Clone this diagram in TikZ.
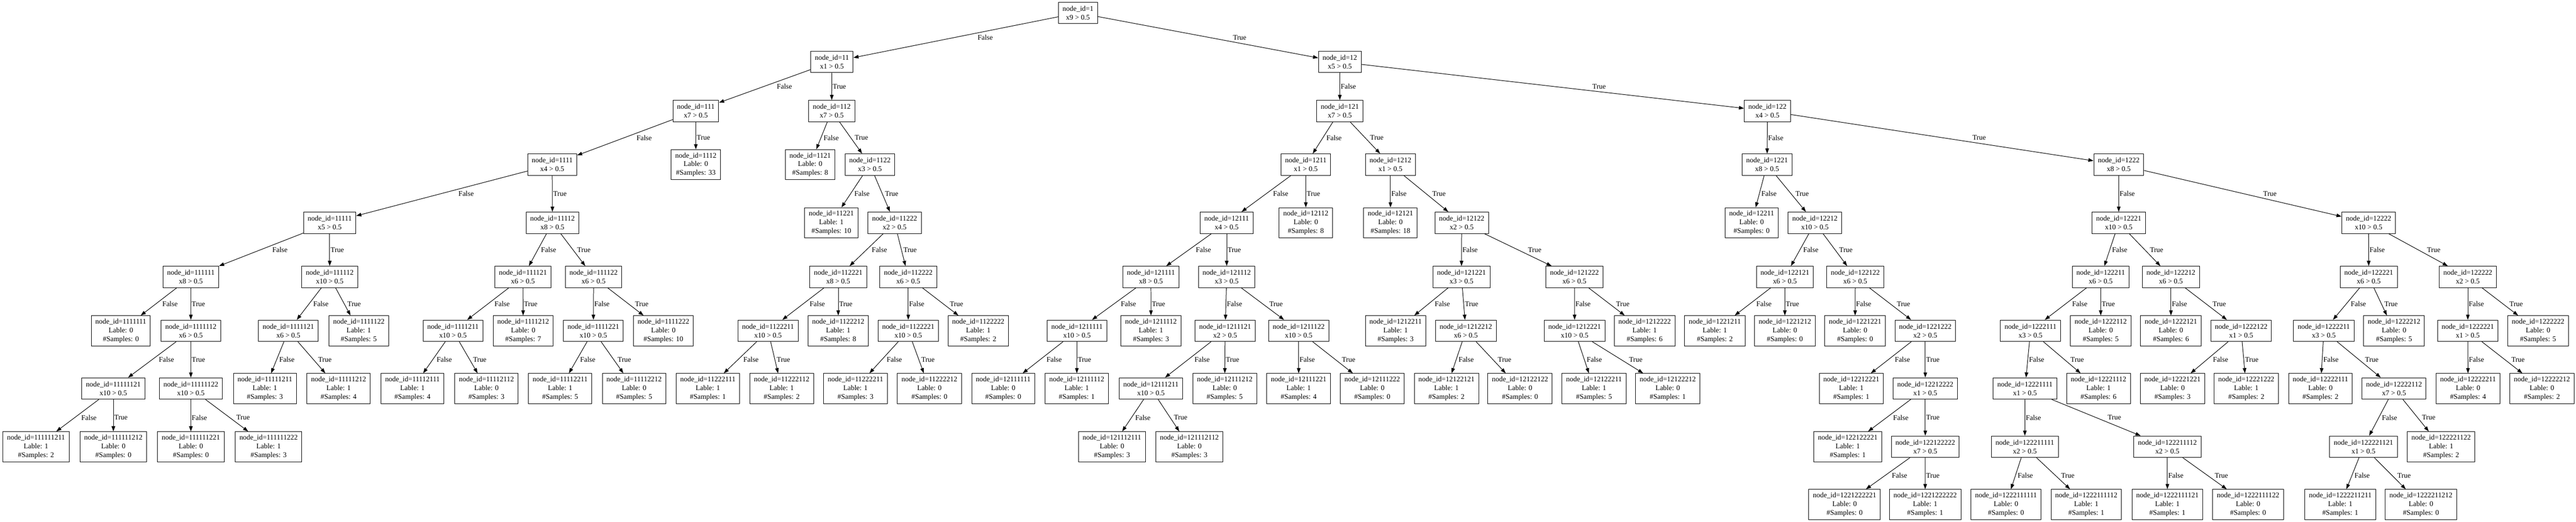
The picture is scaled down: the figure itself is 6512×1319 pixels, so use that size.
\documentclass[tikz,border=0pt]{standalone}
\usepackage{fontspec}
\setmainfont{Liberation Serif}
\usetikzlibrary{arrows.meta}
\newcommand\In[4]{%
  \expandafter\def\csname px#1\endcsname{#2}%
  \expandafter\def\csname py#1\endcsname{#3}%
  \node[inbox] (n#1) at (#2,#3) {node\_id=#1\\x#4 > 0.5};}
\newcommand\Lf[5]{%
  \expandafter\def\csname px#1\endcsname{#2}%
  \expandafter\def\csname py#1\endcsname{#3}%
  \node[leafbox] (n#1) at (#2,#3) {node\_id=#1\\Lable: #4\\\#Samples: #5};}
\newcommand\E[3]{%
  \draw[conn] (n#1) -- (n#2);
  \pgfmathsetmacro\lx{(\csname px#1\endcsname+\csname px#2\endcsname)/2+abs(\csname px#2\endcsname-\csname px#1\endcsname)/(\csname py#2\endcsname-\csname py#1\endcsname)*11+2}%
  \pgfmathsetmacro\ly{(\csname py#1\endcsname+\csname py#2\endcsname)/2}%
  \node[lbl] (l#2) at (\lx,\ly) {#3};}
\newcommand\T[3]{\E{#1}{#2}{False}\E{#1}{#3}{True}}
\begin{document}
\begin{tikzpicture}[x=0.76923pt,y=-0.76923pt,
  box/.style={draw, line width=1pt, align=center, inner xsep=8pt, inner ysep=0pt, font=\fontsize{14}{16.8}\selectfont},
  inbox/.style={box, minimum height=41.6pt},
  leafbox/.style={box, minimum height=58.4pt},
  conn/.style={draw, line width=1pt, -{Triangle[length=10pt,width=7pt]}},
  lbl/.style={anchor=west, inner sep=0pt, font=\fontsize{14}{16.8}\selectfont}]
\fill[white] (0,0) rectangle (6512,1319);
\useasboundingbox (0,0) rectangle (6512,1319);
% rank 0
\In{1}{2725}{32.5}{9}
% rank 1
\In{11}{2103}{156.5}{1}
\In{12}{3387}{156.5}{5}
% rank 2
\In{111}{1759}{280.5}{7}
\In{112}{2102.5}{280.5}{7}
\In{121}{3387}{280.5}{7}
\In{122}{4468}{280.5}{4}
% rank 3
\In{1111}{1396}{416}{4}
\Lf{1112}{1759}{416}{0}{33}
\Lf{1121}{2048}{416}{0}{8}
\In{1122}{2199}{416}{3}
\In{1211}{3301}{416}{1}
\In{1212}{3515}{416}{1}
\In{1221}{4467}{416}{8}
\In{1222}{5356}{416}{8}
% rank 4
\In{11111}{833.5}{563}{5}
\In{11112}{1396.6}{563}{8}
\Lf{11221}{2101.5}{563}{1}{10}
\In{11222}{2261.5}{563}{2}
\In{12111}{3101}{563}{4}
\Lf{12112}{3301}{563}{0}{8}
\Lf{12121}{3515}{563}{0}{18}
\In{12122}{3695}{563}{2}
\Lf{12211}{4428}{563}{0}{0}
\In{12212}{4588}{563}{10}
\In{12221}{5356}{563}{10}
\In{12222}{5987.6}{563}{10}
% rank 5
\In{111111}{482.5}{700}{8}
\In{111112}{833.5}{700}{10}
\In{111121}{1322}{700}{6}
\In{111122}{1500.5}{700}{6}
\In{112221}{2119}{700}{8}
\In{112222}{2296}{700}{6}
\In{121111}{2909.5}{700}{8}
\In{121112}{3101}{700}{3}
\In{121221}{3694.5}{700}{3}
\In{121222}{3980}{700}{6}
\In{122121}{4512}{700}{6}
\In{122122}{4690}{700}{6}
\In{122211}{5310.5}{700}{6}
\In{122212}{5488}{700}{6}
\In{122221}{5988}{700}{6}
\In{122222}{6238.5}{700}{2}
% rank 6
\Lf{1111111}{305.5}{836}{0}{0}
\In{1111112}{482.5}{836}{6}
\In{1111121}{729}{836}{6}
\Lf{1111122}{907}{836}{1}{5}
\In{1111211}{1145}{836}{10}
\Lf{1111212}{1322.6}{836}{0}{7}
\In{1111221}{1500}{836}{10}
\Lf{1111222}{1677}{836}{0}{10}
\In{1122211}{1941.6}{836}{10}
\Lf{1122212}{2119}{836}{1}{8}
\In{1122221}{2296}{836}{10}
\Lf{1122222}{2473}{836}{1}{2}
\In{1211111}{2722.6}{836}{10}
\Lf{1211112}{2909.6}{836}{1}{3}
\In{1211121}{3097}{836}{2}
\In{1211122}{3283}{836}{10}
\Lf{1212211}{3528}{836}{1}{3}
\In{1212212}{3705.6}{836}{6}
\In{1212221}{3980.6}{836}{10}
\Lf{1212222}{4157.5}{836}{1}{6}
\Lf{1221211}{4335}{836}{1}{2}
\Lf{1221212}{4512}{836}{0}{0}
\Lf{1221221}{4689.5}{836}{0}{0}
\In{1221222}{4867}{836}{2}
\In{1222111}{5133}{836}{3}
\Lf{1222112}{5310.5}{836}{0}{5}
\Lf{1222121}{5488}{836}{0}{6}
\In{1222122}{5665.5}{836}{1}
\In{1222211}{5874.5}{836}{3}
\Lf{1222212}{6052}{836}{0}{5}
\In{1222221}{6238.5}{836}{1}
\Lf{1222222}{6416}{836}{0}{5}
% rank 7
\In{11111121}{286.6}{982}{10}
\In{11111122}{482.5}{982}{10}
\Lf{11111211}{669.6}{982}{1}{3}
\Lf{11111212}{856}{982}{1}{4}
\Lf{11112111}{1042.7}{982}{1}{4}
\Lf{11112112}{1229.7}{982}{0}{3}
\Lf{11112211}{1416}{982}{1}{5}
\Lf{11112212}{1603}{982}{0}{5}
\Lf{11222111}{1789.5}{982}{1}{1}
\Lf{11222112}{1976}{982}{1}{2}
\Lf{11222211}{2162.6}{982}{1}{3}
\Lf{11222212}{2349.5}{982}{0}{0}
\Lf{12111111}{2536}{982}{0}{0}
\Lf{12111112}{2722}{982}{1}{1}
\In{12111211}{2909.5}{982}{10}
\Lf{12111212}{3096}{982}{0}{5}
\Lf{12111221}{3283}{982}{1}{4}
\Lf{12111222}{3469}{982}{0}{0}
\Lf{12122121}{3656.6}{982}{1}{2}
\Lf{12122122}{3842.5}{982}{0}{0}
\Lf{12122211}{4029.6}{982}{1}{5}
\Lf{12122212}{4216}{982}{0}{1}
\Lf{12212221}{4680}{982}{1}{1}
\In{12212222}{4867}{982}{1}
\In{12221111}{5119}{982}{1}
\Lf{12221112}{5305}{982}{1}{6}
\Lf{12221221}{5492}{982}{0}{3}
\Lf{12221222}{5678.5}{982}{1}{2}
\Lf{12222111}{5866}{982}{0}{2}
\In{12222112}{6052}{982}{7}
\Lf{12222211}{6239}{982}{0}{4}
\Lf{12222212}{6425.8}{982}{0}{2}
% rank 8
\Lf{111111211}{91}{1129}{1}{2}
\Lf{111111212}{286.6}{1129}{0}{0}
\Lf{111111221}{482.5}{1129}{0}{0}
\Lf{111111222}{679}{1129}{1}{3}
\Lf{121112111}{2811}{1129}{0}{3}
\Lf{121112112}{3006.7}{1129}{0}{3}
\Lf{122122221}{4671}{1129}{1}{1}
\In{122122222}{4867}{1129}{7}
\In{122211111}{5118.6}{1129}{2}
\In{122211112}{5479}{1129}{2}
\In{122221121}{5974.6}{1129}{1}
\Lf{122221122}{6171}{1129}{1}{2}
% rank 9
\Lf{1221222221}{4663}{1275}{0}{0}
\Lf{1221222222}{4866.6}{1275}{1}{1}
\Lf{1222111111}{5071}{1275}{0}{0}
\Lf{1222111112}{5274}{1275}{1}{1}
\Lf{1222111121}{5479}{1275}{1}{1}
\Lf{1222111122}{5683}{1275}{0}{0}
\Lf{1222211211}{5916}{1275}{1}{1}
\Lf{1222211212}{6120}{1275}{0}{0}
% edges
\T{1}{11}{12}
\T{11}{111}{112}
\T{12}{121}{122}
\T{111}{1111}{1112}
\T{112}{1121}{1122}
\T{121}{1211}{1212}
\T{122}{1221}{1222}
\T{1111}{11111}{11112}
\T{1122}{11221}{11222}
\T{1211}{12111}{12112}
\T{1212}{12121}{12122}
\T{1221}{12211}{12212}
\T{1222}{12221}{12222}
\T{11111}{111111}{111112}
\T{11112}{111121}{111122}
\T{11222}{112221}{112222}
\T{12111}{121111}{121112}
\T{12122}{121221}{121222}
\T{12212}{122121}{122122}
\T{12221}{122211}{122212}
\T{12222}{122221}{122222}
\T{111111}{1111111}{1111112}
\T{111112}{1111121}{1111122}
\T{111121}{1111211}{1111212}
\T{111122}{1111221}{1111222}
\T{112221}{1122211}{1122212}
\T{112222}{1122221}{1122222}
\T{121111}{1211111}{1211112}
\T{121112}{1211121}{1211122}
\T{121221}{1212211}{1212212}
\T{121222}{1212221}{1212222}
\T{122121}{1221211}{1221212}
\T{122122}{1221221}{1221222}
\T{122211}{1222111}{1222112}
\T{122212}{1222121}{1222122}
\T{122221}{1222211}{1222212}
\T{122222}{1222221}{1222222}
\T{1111112}{11111121}{11111122}
\T{1111121}{11111211}{11111212}
\T{1111211}{11112111}{11112112}
\T{1111221}{11112211}{11112212}
\T{1122211}{11222111}{11222112}
\T{1122221}{11222211}{11222212}
\T{1211111}{12111111}{12111112}
\T{1211121}{12111211}{12111212}
\T{1211122}{12111221}{12111222}
\T{1212212}{12122121}{12122122}
\T{1212221}{12122211}{12122212}
\T{1221222}{12212221}{12212222}
\T{1222111}{12221111}{12221112}
\T{1222122}{12221221}{12221222}
\T{1222211}{12222111}{12222112}
\T{1222221}{12222211}{12222212}
\T{11111121}{111111211}{111111212}
\T{11111122}{111111221}{111111222}
\T{12111211}{121112111}{121112112}
\T{12212222}{122122221}{122122222}
\T{12221111}{122211111}{122211112}
\T{12222112}{122221121}{122221122}
\T{122122222}{1221222221}{1221222222}
\T{122211111}{1222111111}{1222111112}
\T{122211112}{1222111121}{1222111122}
\T{122221121}{1222211211}{1222211212}
\end{tikzpicture}
\end{document}
